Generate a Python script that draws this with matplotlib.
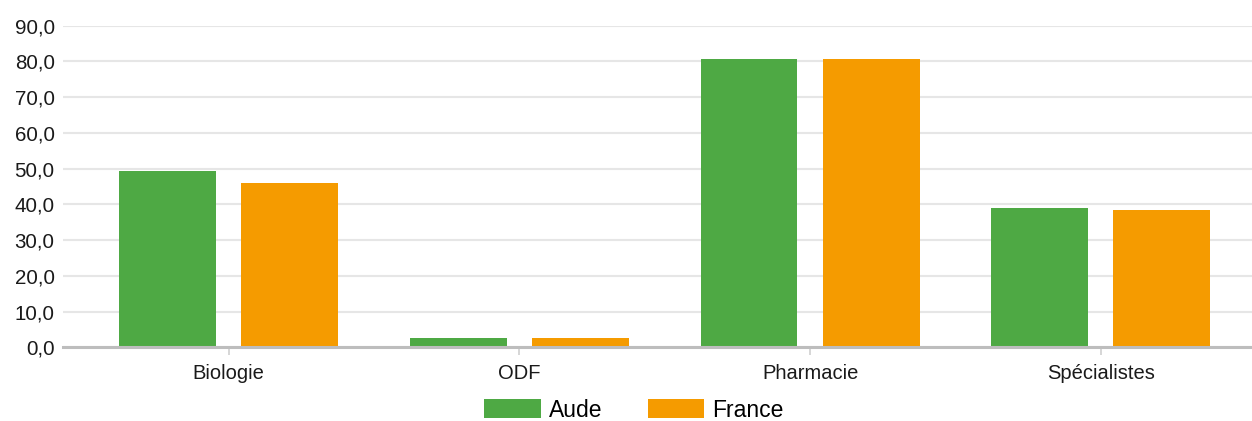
import matplotlib
matplotlib.use("Agg")
import numpy as np
import matplotlib.pyplot as plt
from matplotlib.ticker import FuncFormatter

plt.rcParams["font.family"] = ["Liberation Sans", "DejaVu Sans"]

categories = ["Biologie", "ODF", "Pharmacie", "Spécialistes"]
aude = [49.3, 2.7, 80.7, 38.9]
france = [46.1, 2.7, 80.7, 38.3]
series_names = ["Aude", "France"]

GREEN = "#4EA944"
ORANGE = "#F59B00"

fig = plt.figure(figsize=(12.52, 4.21), dpi=100)
ax = fig.add_axes([0.0503, 0.175, 0.9497, 0.764])

x = np.arange(len(categories))
w = 0.333
off = 0.21
ax.bar(x - off, aude, w, color=GREEN, label=series_names[0], zorder=3)
ax.bar(x + off, france, w, color=ORANGE, label=series_names[1], zorder=3)

ax.set_ylim(0, 90)
ax.set_xlim(-0.57, 3.52)
ax.set_yticks(np.arange(0, 91, 10))
ax.yaxis.set_major_formatter(FuncFormatter(lambda v, p: f"{v:.1f}".replace(".", ",")))
ax.grid(axis="y", color="#e6e6e6", linewidth=1.5, zorder=0)
ax.set_axisbelow(True)

for s in ["top", "right", "left"]:
    ax.spines[s].set_visible(False)
ax.spines["bottom"].set_color("#bdbdbd")
ax.spines["bottom"].set_linewidth(2.2)
ax.spines["bottom"].set_zorder(4)

ax.set_xticks(x)
ax.set_xticklabels(categories)
ax.tick_params(axis="x", length=6, width=1.2, color="#d0d0d0", labelsize=14.5, pad=6, labelcolor="#1a1a1a")
ax.tick_params(axis="y", length=0, labelsize=14.8, pad=6, labelcolor="#1a1a1a")

fig.legend(loc="center", bbox_to_anchor=(0.5064, 0.026), ncol=2, frameon=False,
           fontsize=16.5, handlelength=2.45, handleheight=0.9, handletextpad=0.35,
           columnspacing=2.0, borderaxespad=0)

fig.savefig("out.png", dpi=100)
